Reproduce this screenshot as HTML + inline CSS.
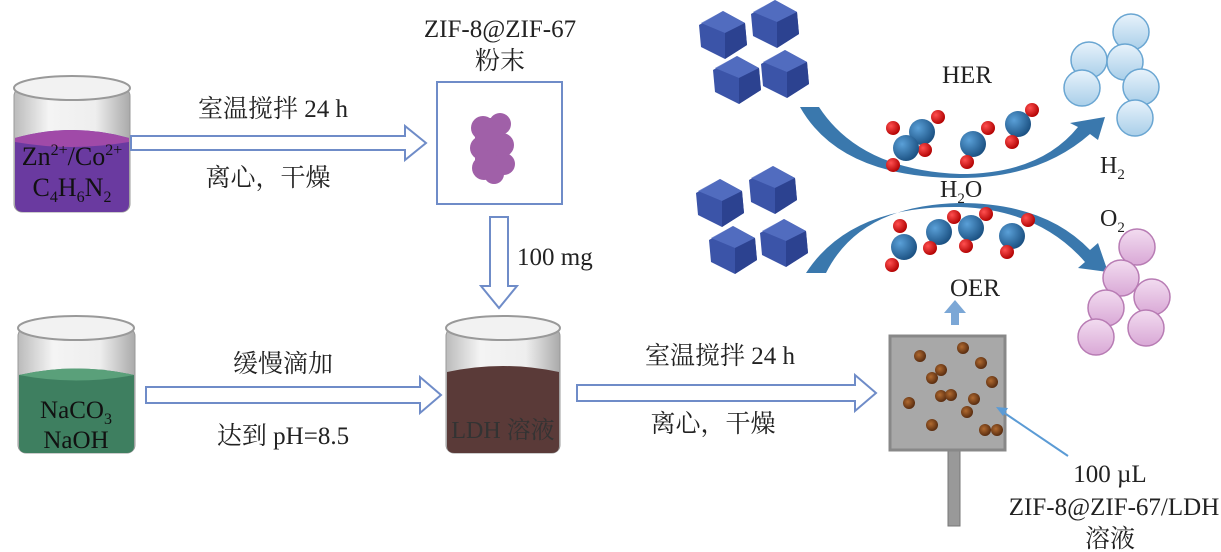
<!DOCTYPE html>
<html><head><meta charset="utf-8"><style>
html,body{margin:0;padding:0;background:#fff;}
svg{display:block;}
text{font-family:"Liberation Serif","Noto Serif CJK SC","Noto Sans CJK SC",serif;fill:#222;}
</style></head><body>
<svg width="1221" height="552" viewBox="0 0 1221 552" xmlns="http://www.w3.org/2000/svg">
<defs>
<linearGradient id="glass" x1="0" x2="1"><stop offset="0" stop-color="#bbb"/><stop offset="0.3" stop-color="#f4f4f4"/><stop offset="0.7" stop-color="#eee"/><stop offset="1" stop-color="#aaa"/></linearGradient>
<radialGradient id="bs" cx="0.35" cy="0.35" r="0.7"><stop offset="0" stop-color="#5aa0d8"/><stop offset="1" stop-color="#1a4f80"/></radialGradient>
<radialGradient id="rs" cx="0.35" cy="0.35" r="0.7"><stop offset="0" stop-color="#ff5050"/><stop offset="1" stop-color="#b00000"/></radialGradient>
<linearGradient id="hb" x1="0" y1="0" x2="0" y2="1"><stop offset="0" stop-color="#e8f3fb"/><stop offset="1" stop-color="#a9cfe9"/></linearGradient>
<linearGradient id="pb" x1="0" y1="0" x2="0" y2="1"><stop offset="0" stop-color="#f2dcf0"/><stop offset="1" stop-color="#d9a8d6"/></linearGradient>
<radialGradient id="dot" cx="0.4" cy="0.4" r="0.6"><stop offset="0" stop-color="#b06a30"/><stop offset="1" stop-color="#5a2d10"/></radialGradient>
<g id="cube"><polygon points="0,-24 22,-12 24,10 2,24 -22,12 -24,-10" fill="#3b54a8"/><polygon points="0,-24 22,-12 2,-2 -22,-12" fill="#5872c4" opacity="0.8"/><polygon points="2,-2 22,-12 24,10 2,24" fill="#2c4290"/></g>
<g id="hbub"><circle r="18" fill="url(#hb)" stroke="#6aa6d2" stroke-width="1.5"/></g>
<g id="pbub"><circle r="18" fill="url(#pb)" stroke="#b87cb4" stroke-width="1.5"/></g>
<g id="d"><circle r="6" fill="url(#dot)"/></g>
</defs>

<!-- Beaker 1 -->
<rect x="14" y="88" width="116" height="124" rx="8" fill="url(#glass)" stroke="#999"/>
<ellipse cx="72" cy="88" rx="58" ry="12" fill="#f2f2f2" stroke="#999" stroke-width="2"/>
<path d="M15,138 Q72,122 129,138 L129,204 Q129,212 120,212 L24,212 Q15,212 15,204 Z" fill="#6a3aa0"/>
<path d="M15,138 Q72,122 129,138 L129,142 Q72,152 15,142 Z" fill="#a04aa8"/>
<text x="72" y="165" font-size="26" text-anchor="middle" style="fill:#111">Zn<tspan font-size="16" dy="-10">2+</tspan><tspan dy="10">/Co</tspan><tspan font-size="16" dy="-10">2+</tspan></text>
<text x="72" y="196" font-size="26" text-anchor="middle" style="fill:#111">C<tspan font-size="16" dy="6">4</tspan><tspan dy="-6">H</tspan><tspan font-size="16" dy="6">6</tspan><tspan dy="-6">N</tspan><tspan font-size="16" dy="6">2</tspan></text>

<!-- arrow 1 -->
<polygon points="131,136 405,136 405,126 426,143 405,160 405,150 131,150" fill="#fff" stroke="#6f8cc8" stroke-width="2"/>
<text x="273" y="117" font-size="25" text-anchor="middle">室温搅拌 24 h</text>
<text x="268" y="186" font-size="25" text-anchor="middle">离心，干燥</text>

<!-- powder box -->
<text x="500" y="37" font-size="25" text-anchor="middle">ZIF-8@ZIF-67</text>
<text x="500" y="69" font-size="25" text-anchor="middle">粉末</text>
<rect x="437" y="82" width="125" height="122" fill="#fff" stroke="#6f8cc8" stroke-width="2"/>
<g fill="#a060a8">
<rect x="475" y="118" width="30" height="60" rx="12"/>
<circle cx="483" cy="128" r="12"/><circle cx="500" cy="124" r="11"/><circle cx="482" cy="148" r="12"/><circle cx="502" cy="145" r="12"/><circle cx="484" cy="168" r="12"/><circle cx="504" cy="164" r="11"/><circle cx="494" cy="174" r="10"/><circle cx="493" cy="140" r="12"/>
</g>
<!-- down arrow -->
<polygon points="490,217 508,217 508,286 517,286 499,308 481,286 490,286" fill="#fff" stroke="#6f8cc8" stroke-width="2"/>
<text x="517" y="265" font-size="25">100 mg</text>

<!-- Beaker 2 -->
<rect x="18" y="328" width="117" height="125" rx="8" fill="url(#glass)" stroke="#999"/>
<ellipse cx="76" cy="328" rx="58" ry="12" fill="#f2f2f2" stroke="#999" stroke-width="2"/>
<path d="M19,375 Q76,362 134,375 L134,446 Q134,453 126,453 L27,453 Q19,453 19,446 Z" fill="#3e7f60"/>
<path d="M19,375 Q76,362 134,375 Q76,386 19,375 Z" fill="#5aa07a"/>
<text x="76" y="418" font-size="25" text-anchor="middle" style="fill:#111">NaCO<tspan font-size="16" dy="6">3</tspan></text>
<text x="76" y="448" font-size="25" text-anchor="middle" style="fill:#111">NaOH</text>

<polygon points="146,387 420,387 420,377 441,395 420,413 420,403 146,403" fill="#fff" stroke="#6f8cc8" stroke-width="2"/>
<text x="283" y="372" font-size="25" text-anchor="middle">缓慢滴加</text>
<text x="283" y="444" font-size="25" text-anchor="middle">达到 pH=8.5</text>

<!-- Beaker 3 -->
<rect x="446" y="328" width="114" height="125" rx="8" fill="url(#glass)" stroke="#999"/>
<ellipse cx="503" cy="328" rx="57" ry="12" fill="#f2f2f2" stroke="#999" stroke-width="2"/>
<path d="M447,372 Q503,360 559,372 L559,446 Q559,453 551,453 L455,453 Q447,453 447,446 Z" fill="#5a3a38"/>
<text x="503" y="438" font-size="24" text-anchor="middle" style="fill:#333">LDH 溶液</text>

<polygon points="577,385 855,385 855,375 876,393 855,411 855,401 577,401" fill="#fff" stroke="#6f8cc8" stroke-width="2"/>
<text x="720" y="364" font-size="25" text-anchor="middle">室温搅拌 24 h</text>
<text x="713" y="432" font-size="25" text-anchor="middle">离心，干燥</text>

<!-- electrode -->
<rect x="948" y="448" width="12" height="78" fill="#999" stroke="#777"/>
<rect x="890" y="336" width="115" height="114" fill="#a8a8a8" stroke="#888" stroke-width="3"/>
<use href="#d" x="920" y="356"/><use href="#d" x="963" y="348"/><use href="#d" x="941" y="370"/><use href="#d" x="932" y="378"/><use href="#d" x="981" y="363"/><use href="#d" x="992" y="382"/><use href="#d" x="909" y="403"/><use href="#d" x="941" y="396"/><use href="#d" x="951" y="395"/><use href="#d" x="974" y="399"/><use href="#d" x="967" y="412"/><use href="#d" x="932" y="425"/><use href="#d" x="985" y="430"/><use href="#d" x="997" y="430"/>
<line x1="1068" y1="456" x2="1000" y2="410" stroke="#5b9bd5" stroke-width="2"/>
<polygon points="996,407 1008,408 1003,416" fill="#5b9bd5"/>
<text x="1110" y="482" font-size="25" text-anchor="middle">100 µL</text>
<text x="1114" y="515" font-size="25" text-anchor="middle">ZIF-8@ZIF-67/LDH</text>
<text x="1110" y="547" font-size="25" text-anchor="middle">溶液</text>

<!-- up arrow -->
<polygon points="951,325 951,313 944,313 955,300 966,313 959,313 959,325" fill="#7ba7d6"/>

<!-- cubes -->
<use href="#cube" x="723" y="35"/><use href="#cube" x="775" y="24"/><use href="#cube" x="737" y="80"/><use href="#cube" x="785" y="74"/>
<use href="#cube" x="720" y="203"/><use href="#cube" x="773" y="190"/><use href="#cube" x="733" y="250"/><use href="#cube" x="784" y="243"/>

<!-- curved arrows -->
<path d="M800,107 L819,107 Q860,170 960,174 Q1040,174 1078,127 L1070,123 L1105,117 L1098,140 L1090,134 Q1040,178 960,178 Q840,178 800,107 Z" fill="#3a78ad"/>
<path d="M806,273 L826,273 Q860,205 960,203 Q1045,203 1090,250 L1098,243 L1108,272 L1078,268 L1085,262 Q1040,210 960,207 Q850,205 806,273 Z" fill="#3a78ad"/>

<!-- water molecules -->
<g>
<circle cx="893" cy="128" r="7" fill="url(#rs)"/><circle cx="938" cy="117" r="7" fill="url(#rs)"/><circle cx="922" cy="132" r="13" fill="url(#bs)"/><circle cx="925" cy="150" r="7" fill="url(#rs)"/><circle cx="906" cy="148" r="13" fill="url(#bs)"/><circle cx="893" cy="165" r="7" fill="url(#rs)"/>
<circle cx="988" cy="128" r="7" fill="url(#rs)"/><circle cx="973" cy="144" r="13" fill="url(#bs)"/><circle cx="967" cy="162" r="7" fill="url(#rs)"/>
<circle cx="1032" cy="110" r="7" fill="url(#rs)"/><circle cx="1018" cy="124" r="13" fill="url(#bs)"/><circle cx="1012" cy="142" r="7" fill="url(#rs)"/>
<circle cx="900" cy="226" r="7" fill="url(#rs)"/><circle cx="904" cy="247" r="13" fill="url(#bs)"/><circle cx="892" cy="265" r="7" fill="url(#rs)"/>
<circle cx="954" cy="217" r="7" fill="url(#rs)"/><circle cx="939" cy="232" r="13" fill="url(#bs)"/><circle cx="930" cy="248" r="7" fill="url(#rs)"/>
<circle cx="986" cy="214" r="7" fill="url(#rs)"/><circle cx="971" cy="228" r="13" fill="url(#bs)"/><circle cx="966" cy="246" r="7" fill="url(#rs)"/>
<circle cx="1028" cy="220" r="7" fill="url(#rs)"/><circle cx="1012" cy="236" r="13" fill="url(#bs)"/><circle cx="1007" cy="252" r="7" fill="url(#rs)"/>
</g>

<text x="967" y="83" font-size="25" text-anchor="middle">HER</text>
<text x="1100" y="173" font-size="24">H<tspan font-size="15" dy="6">2</tspan></text>
<text x="940" y="197" font-size="24">H<tspan font-size="15" dy="6">2</tspan><tspan dy="-6">O</tspan></text>
<text x="1100" y="226" font-size="24">O<tspan font-size="15" dy="6">2</tspan></text>
<text x="975" y="296" font-size="25" text-anchor="middle">OER</text>

<!-- bubbles -->
<use href="#hbub" x="1131" y="32"/><use href="#hbub" x="1089" y="60"/><use href="#hbub" x="1125" y="62"/><use href="#hbub" x="1082" y="88"/><use href="#hbub" x="1141" y="87"/><use href="#hbub" x="1135" y="118"/>
<use href="#pbub" x="1137" y="247"/><use href="#pbub" x="1121" y="278"/><use href="#pbub" x="1152" y="297"/><use href="#pbub" x="1106" y="308"/><use href="#pbub" x="1146" y="328"/><use href="#pbub" x="1096" y="337"/>
</svg>
</body></html>
